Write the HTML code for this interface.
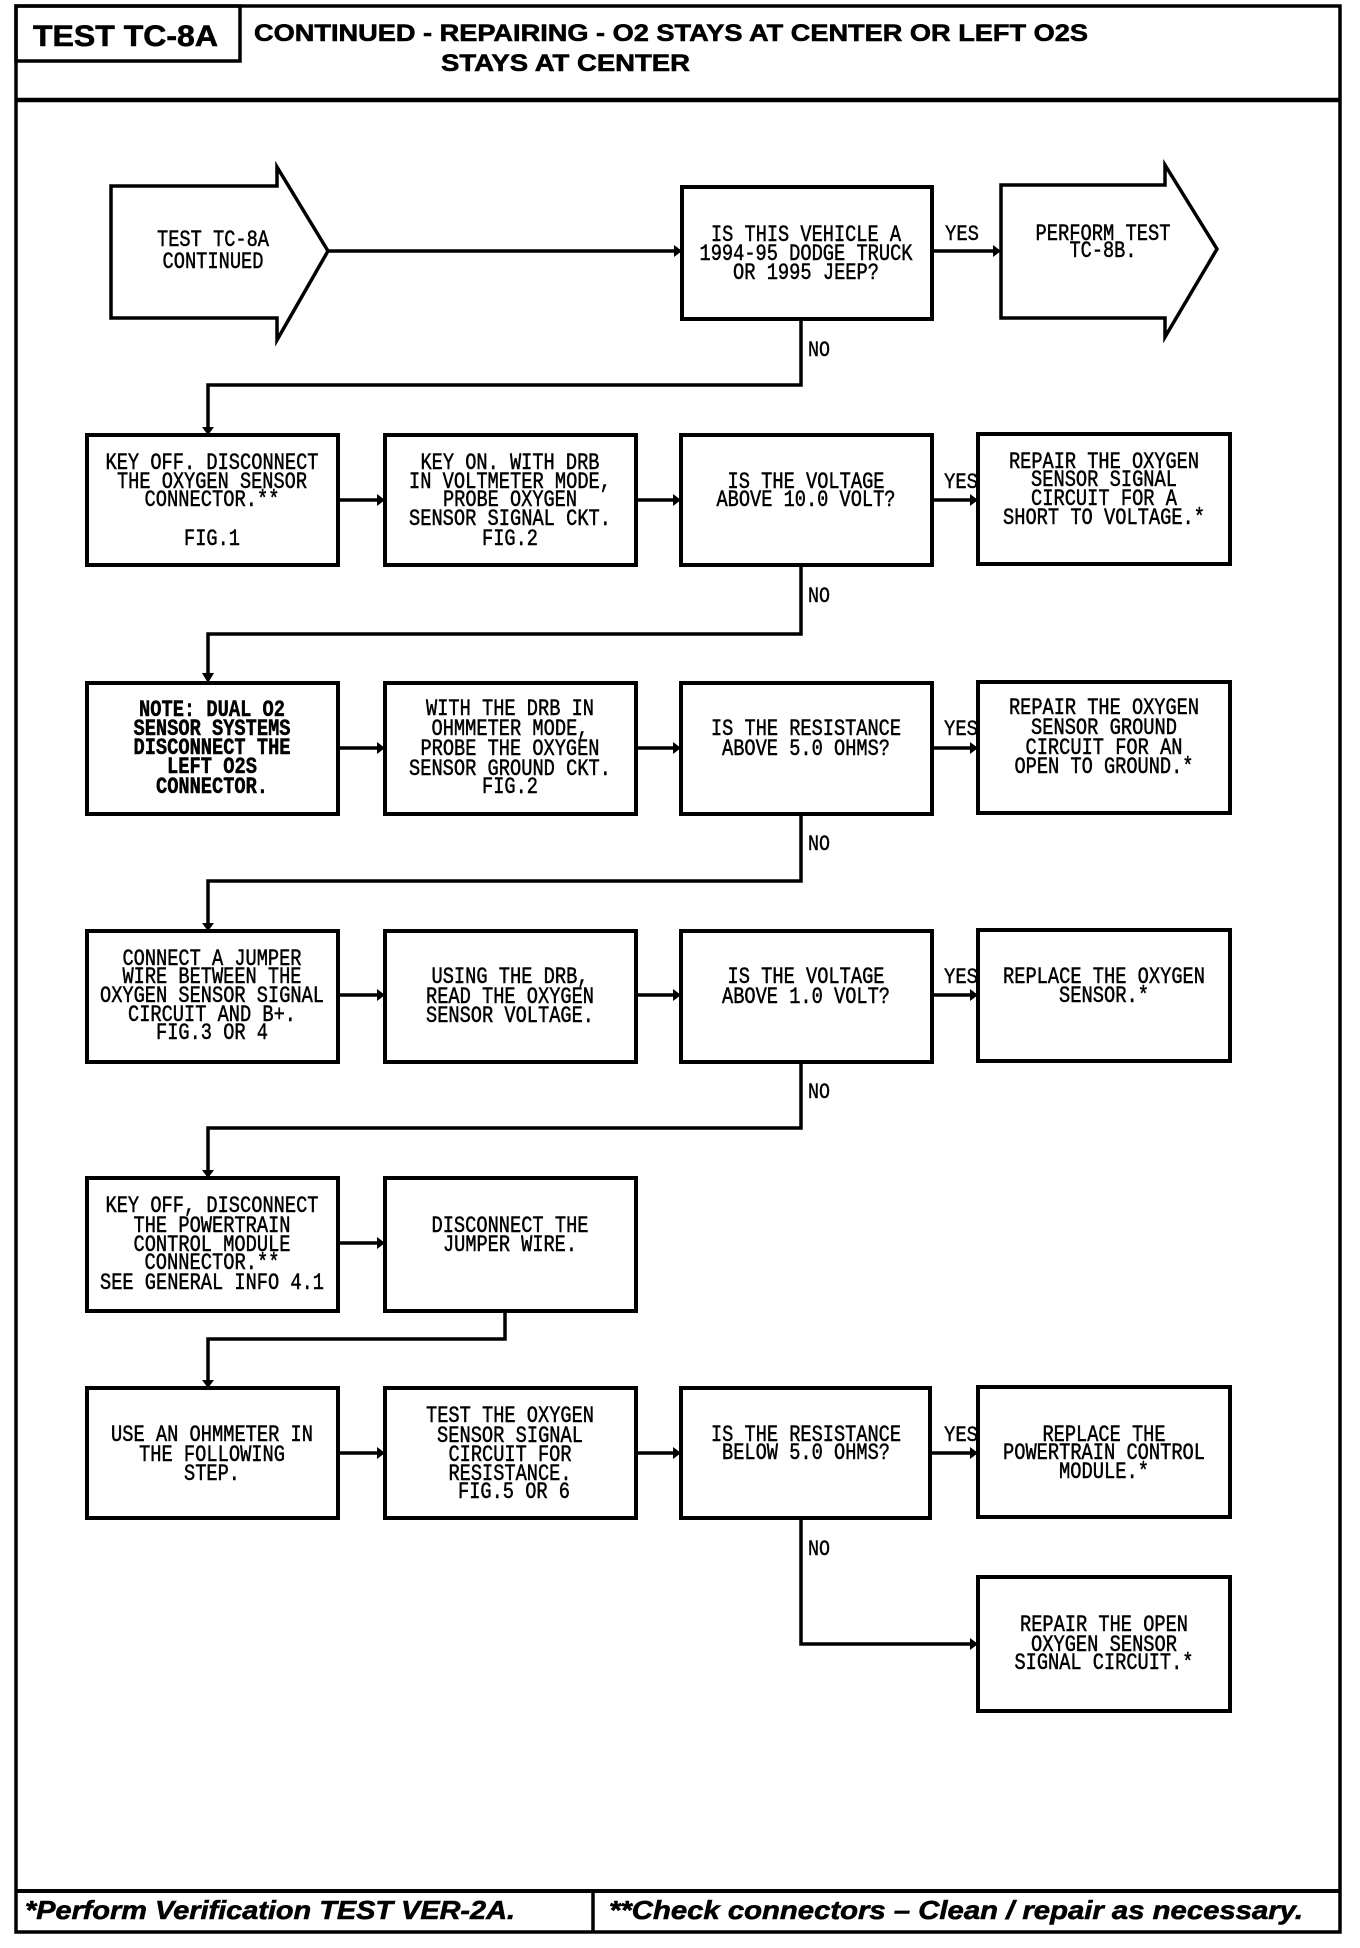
<!DOCTYPE html>
<html><head><meta charset="utf-8"><style>
html,body{margin:0;padding:0;background:#fff;}
svg{display:block;}
.t{font-family:"Liberation Mono",monospace;font-size:23px;fill:#000;stroke:#000;stroke-width:0.5;text-anchor:middle;}
.b{font-weight:bold;}
.l{font-family:"Liberation Mono",monospace;font-size:22px;fill:#000;stroke:#000;stroke-width:0.4;}
.h{font-family:"Liberation Sans",Arial,sans-serif;font-weight:bold;fill:#000;stroke:#000;stroke-width:0.6;}
</style></head><body>
<svg width="1360" height="1948" viewBox="0 0 1360 1948" xmlns="http://www.w3.org/2000/svg">
<g fill="none" stroke="#000" stroke-width="3.5">
<rect x="16" y="6" width="1324" height="1926"/>
<rect x="16" y="6" width="224" height="55"/>
<line x1="16" y1="100" x2="1340" y2="100" stroke-width="4.5"/>
<line x1="16" y1="1891" x2="1340" y2="1891" stroke-width="4"/>
<line x1="593" y1="1891" x2="593" y2="1932"/>
<polygon points="111,186 277,186 277,167 328,251 277,340 277,318 111,318"/>
<rect x="682" y="187" width="250" height="132" stroke-width="4"/>
<polygon points="1001,185 1165,185 1165,165 1217,249 1165,337 1165,318 1001,318"/>
<line x1="328" y1="251" x2="674" y2="251"/>
<line x1="932" y1="251" x2="993" y2="251"/>
<polyline points="801,319 801,385 208,385 208,427"/>
<rect x="87" y="435" width="251" height="130" stroke-width="4"/>
<rect x="385" y="435" width="251" height="130" stroke-width="4"/>
<rect x="681" y="435" width="251" height="130" stroke-width="4"/>
<rect x="978" y="434" width="252" height="130" stroke-width="4"/>
<line x1="338" y1="500" x2="377" y2="500"/>
<line x1="636" y1="500" x2="673" y2="500"/>
<line x1="932" y1="500" x2="970" y2="500"/>
<polyline points="801,565 801,634 208,634 208,673"/>
<rect x="87" y="683" width="251" height="131" stroke-width="4"/>
<rect x="385" y="683" width="251" height="131" stroke-width="4"/>
<rect x="681" y="683" width="251" height="131" stroke-width="4"/>
<rect x="978" y="682" width="252" height="131" stroke-width="4"/>
<line x1="338" y1="748" x2="377" y2="748"/>
<line x1="636" y1="748" x2="673" y2="748"/>
<line x1="932" y1="748" x2="970" y2="748"/>
<polyline points="801,814 801,881 208,881 208,923"/>
<rect x="87" y="931" width="251" height="131" stroke-width="4"/>
<rect x="385" y="931" width="251" height="131" stroke-width="4"/>
<rect x="681" y="931" width="251" height="131" stroke-width="4"/>
<rect x="978" y="930" width="252" height="131" stroke-width="4"/>
<line x1="338" y1="995" x2="377" y2="995"/>
<line x1="636" y1="995" x2="673" y2="995"/>
<line x1="932" y1="995" x2="970" y2="995"/>
<polyline points="801,1062 801,1128 208,1128 208,1170"/>
<rect x="87" y="1178" width="251" height="133" stroke-width="4"/>
<rect x="385" y="1178" width="251" height="133" stroke-width="4"/>
<line x1="338" y1="1243" x2="377" y2="1243"/>
<polyline points="505,1311 505,1339 208,1339 208,1380"/>
<rect x="87" y="1388" width="251" height="130" stroke-width="4"/>
<rect x="385" y="1388" width="251" height="130" stroke-width="4"/>
<rect x="681" y="1388" width="249" height="130" stroke-width="4"/>
<rect x="978" y="1387" width="252" height="130" stroke-width="4"/>
<line x1="338" y1="1453" x2="377" y2="1453"/>
<line x1="636" y1="1453" x2="673" y2="1453"/>
<line x1="930" y1="1453" x2="970" y2="1453"/>
<polyline points="801,1518 801,1644 970,1644"/>
<rect x="978" y="1577" width="252" height="134" stroke-width="4"/>
</g>
<g fill="#000">
<polygon points="674,245 682,251 674,257"/>
<polygon points="993,245 1001,251 993,257"/>
<polygon points="202,427 214,427 208,435"/>
<polygon points="202,673 214,673 208,683"/>
<polygon points="202,923 214,923 208,931"/>
<polygon points="202,1170 214,1170 208,1178"/>
<polygon points="202,1380 214,1380 208,1388"/>
<polygon points="377,494 385,500 377,506"/><polygon points="673,494 681,500 673,506"/><polygon points="970,494 978,500 970,506"/>
<polygon points="377,742 385,748 377,754"/><polygon points="673,742 681,748 673,754"/><polygon points="970,742 978,748 970,754"/>
<polygon points="377,989 385,995 377,1001"/><polygon points="673,989 681,995 673,1001"/><polygon points="970,989 978,995 970,1001"/>
<polygon points="377,1237 385,1243 377,1249"/>
<polygon points="377,1447 385,1453 377,1459"/><polygon points="673,1447 681,1453 673,1459"/><polygon points="970,1447 978,1453 970,1459"/>
<polygon points="970,1638 978,1644 970,1650"/>
</g>
<text class="h" x="33" y="46" font-size="30" textLength="185" lengthAdjust="spacingAndGlyphs">TEST TC-8A</text>
<text class="h" x="254" y="41" font-size="24" textLength="834" lengthAdjust="spacingAndGlyphs">CONTINUED -  REPAIRING - O2 STAYS AT CENTER OR LEFT O2S</text>
<text class="h" x="441" y="71" font-size="24" textLength="249" lengthAdjust="spacingAndGlyphs">STAYS AT CENTER</text>
<text class="h" x="25" y="1919" font-style="italic" font-size="26" textLength="490" lengthAdjust="spacingAndGlyphs">*Perform Verification TEST VER-2A.</text>
<text class="h" x="609" y="1919" font-style="italic" font-size="26" textLength="694" lengthAdjust="spacingAndGlyphs">**Check connectors – Clean / repair as necessary.</text>
<text class="l" x="945" y="240" textLength="34" lengthAdjust="spacingAndGlyphs">YES</text>
<text class="l" x="944" y="488" textLength="34" lengthAdjust="spacingAndGlyphs">YES</text>
<text class="l" x="944" y="735" textLength="34" lengthAdjust="spacingAndGlyphs">YES</text>
<text class="l" x="944" y="983" textLength="34" lengthAdjust="spacingAndGlyphs">YES</text>
<text class="l" x="944" y="1441" textLength="34" lengthAdjust="spacingAndGlyphs">YES</text>
<text class="l" x="808" y="356" textLength="22" lengthAdjust="spacingAndGlyphs">NO</text>
<text class="l" x="808" y="602" textLength="22" lengthAdjust="spacingAndGlyphs">NO</text>
<text class="l" x="808" y="850" textLength="22" lengthAdjust="spacingAndGlyphs">NO</text>
<text class="l" x="808" y="1098" textLength="22" lengthAdjust="spacingAndGlyphs">NO</text>
<text class="l" x="808" y="1555" textLength="22" lengthAdjust="spacingAndGlyphs">NO</text>
<g>
<text class="t" x="213" y="246" textLength="112" lengthAdjust="spacingAndGlyphs">TEST TC-8A</text>
<text class="t" x="213" y="268" textLength="101" lengthAdjust="spacingAndGlyphs">CONTINUED</text>
<text class="t" x="806" y="241" textLength="190" lengthAdjust="spacingAndGlyphs">IS THIS VEHICLE A</text>
<text class="t" x="806" y="260" textLength="213" lengthAdjust="spacingAndGlyphs">1994-95 DODGE TRUCK</text>
<text class="t" x="806" y="279" textLength="146" lengthAdjust="spacingAndGlyphs">OR 1995 JEEP?</text>
<text class="t" x="1103" y="240" textLength="135" lengthAdjust="spacingAndGlyphs">PERFORM TEST</text>
<text class="t" x="1103" y="257" textLength="67" lengthAdjust="spacingAndGlyphs">TC-8B.</text>
<text class="t" x="212" y="469" textLength="213" lengthAdjust="spacingAndGlyphs">KEY OFF. DISCONNECT</text>
<text class="t" x="212" y="488" textLength="190" lengthAdjust="spacingAndGlyphs">THE OXYGEN SENSOR</text>
<text class="t" x="212" y="506" textLength="135" lengthAdjust="spacingAndGlyphs">CONNECTOR.**</text>
<text class="t" x="212" y="545" textLength="56" lengthAdjust="spacingAndGlyphs">FIG.1</text>
<text class="t" x="510" y="469" textLength="179" lengthAdjust="spacingAndGlyphs">KEY ON. WITH DRB</text>
<text class="t" x="510" y="488" textLength="202" lengthAdjust="spacingAndGlyphs">IN VOLTMETER MODE,</text>
<text class="t" x="510" y="506" textLength="134" lengthAdjust="spacingAndGlyphs">PROBE OXYGEN</text>
<text class="t" x="510" y="525" textLength="202" lengthAdjust="spacingAndGlyphs">SENSOR SIGNAL CKT.</text>
<text class="t" x="510" y="545" textLength="56" lengthAdjust="spacingAndGlyphs">FIG.2</text>
<text class="t" x="806" y="488" textLength="157" lengthAdjust="spacingAndGlyphs">IS THE VOLTAGE</text>
<text class="t" x="806" y="506" textLength="179" lengthAdjust="spacingAndGlyphs">ABOVE 10.0 VOLT?</text>
<text class="t" x="1104" y="468" textLength="190" lengthAdjust="spacingAndGlyphs">REPAIR THE OXYGEN</text>
<text class="t" x="1104" y="486" textLength="146" lengthAdjust="spacingAndGlyphs">SENSOR SIGNAL</text>
<text class="t" x="1104" y="505" textLength="146" lengthAdjust="spacingAndGlyphs">CIRCUIT FOR A</text>
<text class="t" x="1104" y="524" textLength="202" lengthAdjust="spacingAndGlyphs">SHORT TO VOLTAGE.*</text>
<text class="t b" x="212" y="716" textLength="146" lengthAdjust="spacingAndGlyphs">NOTE: DUAL O2</text>
<text class="t b" x="212" y="735" textLength="157" lengthAdjust="spacingAndGlyphs">SENSOR SYSTEMS</text>
<text class="t b" x="212" y="754" textLength="157" lengthAdjust="spacingAndGlyphs">DISCONNECT THE</text>
<text class="t b" x="212" y="773" textLength="90" lengthAdjust="spacingAndGlyphs">LEFT O2S</text>
<text class="t b" x="212" y="793" textLength="112" lengthAdjust="spacingAndGlyphs">CONNECTOR.</text>
<text class="t" x="510" y="715" textLength="168" lengthAdjust="spacingAndGlyphs">WITH THE DRB IN</text>
<text class="t" x="510" y="735" textLength="157" lengthAdjust="spacingAndGlyphs">OHMMETER MODE,</text>
<text class="t" x="510" y="755" textLength="179" lengthAdjust="spacingAndGlyphs">PROBE THE OXYGEN</text>
<text class="t" x="510" y="775" textLength="202" lengthAdjust="spacingAndGlyphs">SENSOR GROUND CKT.</text>
<text class="t" x="510" y="793" textLength="56" lengthAdjust="spacingAndGlyphs">FIG.2</text>
<text class="t" x="806" y="735" textLength="190" lengthAdjust="spacingAndGlyphs">IS THE RESISTANCE</text>
<text class="t" x="806" y="755" textLength="168" lengthAdjust="spacingAndGlyphs">ABOVE 5.0 OHMS?</text>
<text class="t" x="1104" y="714" textLength="190" lengthAdjust="spacingAndGlyphs">REPAIR THE OXYGEN</text>
<text class="t" x="1104" y="734" textLength="146" lengthAdjust="spacingAndGlyphs">SENSOR GROUND</text>
<text class="t" x="1104" y="754" textLength="157" lengthAdjust="spacingAndGlyphs">CIRCUIT FOR AN</text>
<text class="t" x="1104" y="773" textLength="179" lengthAdjust="spacingAndGlyphs">OPEN TO GROUND.*</text>
<text class="t" x="212" y="965" textLength="179" lengthAdjust="spacingAndGlyphs">CONNECT A JUMPER</text>
<text class="t" x="212" y="983" textLength="179" lengthAdjust="spacingAndGlyphs">WIRE BETWEEN THE</text>
<text class="t" x="212" y="1002" textLength="224" lengthAdjust="spacingAndGlyphs">OXYGEN SENSOR SIGNAL</text>
<text class="t" x="212" y="1021" textLength="168" lengthAdjust="spacingAndGlyphs">CIRCUIT AND B+.</text>
<text class="t" x="212" y="1039" textLength="112" lengthAdjust="spacingAndGlyphs">FIG.3 OR 4</text>
<text class="t" x="510" y="983" textLength="157" lengthAdjust="spacingAndGlyphs">USING THE DRB,</text>
<text class="t" x="510" y="1003" textLength="168" lengthAdjust="spacingAndGlyphs">READ THE OXYGEN</text>
<text class="t" x="510" y="1022" textLength="168" lengthAdjust="spacingAndGlyphs">SENSOR VOLTAGE.</text>
<text class="t" x="806" y="983" textLength="157" lengthAdjust="spacingAndGlyphs">IS THE VOLTAGE</text>
<text class="t" x="806" y="1003" textLength="168" lengthAdjust="spacingAndGlyphs">ABOVE 1.0 VOLT?</text>
<text class="t" x="1104" y="983" textLength="202" lengthAdjust="spacingAndGlyphs">REPLACE THE OXYGEN</text>
<text class="t" x="1104" y="1002" textLength="90" lengthAdjust="spacingAndGlyphs">SENSOR.*</text>
<text class="t" x="212" y="1212" textLength="213" lengthAdjust="spacingAndGlyphs">KEY OFF, DISCONNECT</text>
<text class="t" x="212" y="1232" textLength="157" lengthAdjust="spacingAndGlyphs">THE POWERTRAIN</text>
<text class="t" x="212" y="1251" textLength="157" lengthAdjust="spacingAndGlyphs">CONTROL MODULE</text>
<text class="t" x="212" y="1269" textLength="135" lengthAdjust="spacingAndGlyphs">CONNECTOR.**</text>
<text class="t" x="212" y="1289" textLength="224" lengthAdjust="spacingAndGlyphs">SEE GENERAL INFO 4.1</text>
<text class="t" x="510" y="1232" textLength="157" lengthAdjust="spacingAndGlyphs">DISCONNECT THE</text>
<text class="t" x="510" y="1251" textLength="134" lengthAdjust="spacingAndGlyphs">JUMPER WIRE.</text>
<text class="t" x="212" y="1441" textLength="202" lengthAdjust="spacingAndGlyphs">USE AN OHMMETER IN</text>
<text class="t" x="212" y="1461" textLength="146" lengthAdjust="spacingAndGlyphs">THE FOLLOWING</text>
<text class="t" x="212" y="1480" textLength="56" lengthAdjust="spacingAndGlyphs">STEP.</text>
<text class="t" x="510" y="1422" textLength="168" lengthAdjust="spacingAndGlyphs">TEST THE OXYGEN</text>
<text class="t" x="510" y="1442" textLength="146" lengthAdjust="spacingAndGlyphs">SENSOR SIGNAL</text>
<text class="t" x="510" y="1461" textLength="123" lengthAdjust="spacingAndGlyphs">CIRCUIT FOR</text>
<text class="t" x="510" y="1480" textLength="123" lengthAdjust="spacingAndGlyphs">RESISTANCE.</text>
<text class="t" x="514" y="1498" textLength="112" lengthAdjust="spacingAndGlyphs">FIG.5 OR 6</text>
<text class="t" x="806" y="1441" textLength="190" lengthAdjust="spacingAndGlyphs">IS THE RESISTANCE</text>
<text class="t" x="806" y="1459" textLength="168" lengthAdjust="spacingAndGlyphs">BELOW 5.0 OHMS?</text>
<text class="t" x="1104" y="1441" textLength="123" lengthAdjust="spacingAndGlyphs">REPLACE THE</text>
<text class="t" x="1104" y="1459" textLength="202" lengthAdjust="spacingAndGlyphs">POWERTRAIN CONTROL</text>
<text class="t" x="1104" y="1478" textLength="90" lengthAdjust="spacingAndGlyphs">MODULE.*</text>
<text class="t" x="1104" y="1631" textLength="168" lengthAdjust="spacingAndGlyphs">REPAIR THE OPEN</text>
<text class="t" x="1104" y="1651" textLength="146" lengthAdjust="spacingAndGlyphs">OXYGEN SENSOR</text>
<text class="t" x="1104" y="1669" textLength="179" lengthAdjust="spacingAndGlyphs">SIGNAL CIRCUIT.*</text>
</g>
</svg>
</body></html>
